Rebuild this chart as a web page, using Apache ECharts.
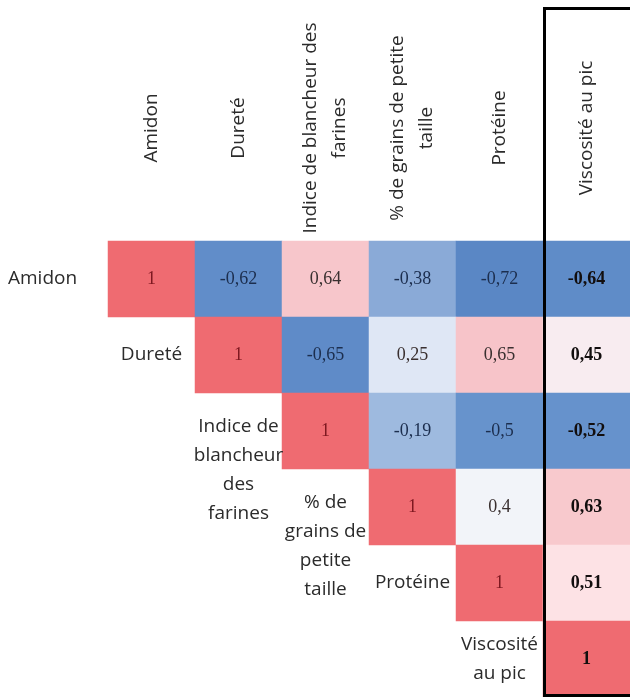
<!DOCTYPE html>
<html>
<head>
<meta charset="utf-8">
<script src="https://cdn.jsdelivr.net/npm/echarts@6/dist/echarts.min.js"></script>
<style>html,body{margin:0;padding:0;background:#fff;}#c{width:630px;height:697px;}</style>
</head>
<body>
<div id="c"></div>
<script>
const categories = ['Amidon', 'Dureté', 'Indice de blancheur des farines', '% de grains de petite taille', 'Protéine', 'Viscosité au pic'];
const headerLabels = ['Amidon', 'Dureté', 'Indice de blancheur des\nfarines', '% de grains de petite\ntaille', 'Protéine', 'Viscosité au pic'];
const rowLabels = ['Amidon', 'Dureté', 'Indice de\nblancheur\ndes\nfarines', '% de\ngrains de\npetite\ntaille', 'Protéine', 'Viscosité\nau pic'];

// upper triangle of the correlation matrix, each row starting at the diagonal
const rowAmidon = [1, -0.62, 0.64, -0.38, -0.72, -0.64];
const rowDurete = [1, -0.65, 0.25, 0.65, 0.45];
const rowIndice = [1, -0.19, -0.5, -0.52];
const rowGrains = [1, 0.4, 0.63];
const rowProteine = [1, 0.51];
const rowViscosite = [1];
const matrixRows = [rowAmidon, rowDurete, rowIndice, rowGrains, rowProteine, rowViscosite];

const colorStops = ['#4a79bd', '#4f7ec1', '#5583c3', '#5b88c6', '#628eca', '#6793cc', '#88a8d6', '#93b1da', '#9cb8de', '#b0c7e6',
  '#c7d6ed', '#d2def1', '#dbe4f3', '#e3eaf6', '#f2f4f9', '#fde4e7', '#f9d0d4', '#f4b8bd', '#f29ca1', '#f0848a', '#ef6b71'];

const heatData = [];
matrixRows.forEach((row, r) => row.forEach((v, k) => heatData.push([r + k, r, v])));

const stairData = [];
for (let r = 1; r < rowLabels.length; r++) stairData.push([r - 1, r, rowLabels[r]]);

const fmt = v => String(v).replace('.', ',');
const last = categories.length - 1;

const chart = echarts.init(document.getElementById('c'));
chart.setOption({
  backgroundColor: '#fff',
  animation: false,
  grid: { left: 108, right: 0, top: 241, bottom: 0, outerBoundsMode: 'none', containLabel: false },
  xAxis: {
    type: 'category', data: categories, position: 'top',
    axisLine: { show: false }, axisTick: { show: false }, splitLine: { show: false },
    axisLabel: {
      interval: 0, rotate: -90, margin: 113, align: 'center', verticalAlign: 'middle',
      fontFamily: 'Open Sans', fontSize: 19, lineHeight: 29, color: '#2b2b2b',
      formatter: (v, i) => headerLabels[i]
    }
  },
  yAxis: {
    type: 'category', data: categories, inverse: true,
    axisLine: { show: false }, axisTick: { show: false }, splitLine: { show: false },
    axisLabel: {
      interval: 0, margin: 100, align: 'left',
      fontFamily: 'Open Sans', fontSize: 19, color: '#2b2b2b',
      formatter: (v, i) => (i === 0 ? rowLabels[0] : '')
    }
  },
  visualMap: {
    type: 'continuous', show: false, min: -1, max: 1, dimension: 2, seriesIndex: 0,
    inRange: { color: colorStops }
  },
  series: [
    {
      type: 'heatmap', data: heatData,
      itemStyle: { borderWidth: 0 },
      emphasis: { disabled: true },
      label: {
        show: true,
        formatter: p => {
          const v = p.value[2];
          let k;
          if (p.value[0] === last) k = 'bold';
          else if (v === 1) k = 'diag';
          else if (v < 0) k = 'neg';
          else k = 'pos';
          return '{' + k + '|' + fmt(v) + '}';
        },
        rich: {
          diag: { fontFamily: 'Liberation Serif', fontSize: 18, color: '#7e1820' },
          neg: { fontFamily: 'Liberation Serif', fontSize: 18, color: '#1c2e4e' },
          pos: { fontFamily: 'Liberation Serif', fontSize: 18, color: '#3a3030' },
          bold: { fontFamily: 'Liberation Serif', fontSize: 18, fontWeight: 'bold', color: '#120e0e' }
        }
      }
    },
    {
      type: 'scatter', data: stairData, symbolSize: 0, silent: true,
      itemStyle: { opacity: 1, color: 'rgba(0,0,0,0)' },
      emphasis: { disabled: true },
      label: {
        show: true, position: 'inside',
        fontFamily: 'Open Sans', fontSize: 19, lineHeight: 29, color: '#2b2b2b',
        textBorderWidth: 0,
        formatter: p => p.value[2]
      },
      labelLayout: p => {
        const lines = String(stairData[p.dataIndex][2]).split('\n').length;
        return { dy: lines > 2 ? 39 : 0 };
      }
    }
  ]
});

const xLast = chart.convertToPixel({ xAxisIndex: 0 }, last);
const band = xLast - chart.convertToPixel({ xAxisIndex: 0 }, last - 1);
const boxX = xLast - band / 2 + 1.5;
chart.setOption({
  graphic: [{
    type: 'rect', z: 100, silent: true,
    shape: { x: boxX, y: 8.5, width: 200, height: 687 },
    style: { fill: 'none', stroke: '#000', lineWidth: 3 }
  }]
});
</script>
</body>
</html>
